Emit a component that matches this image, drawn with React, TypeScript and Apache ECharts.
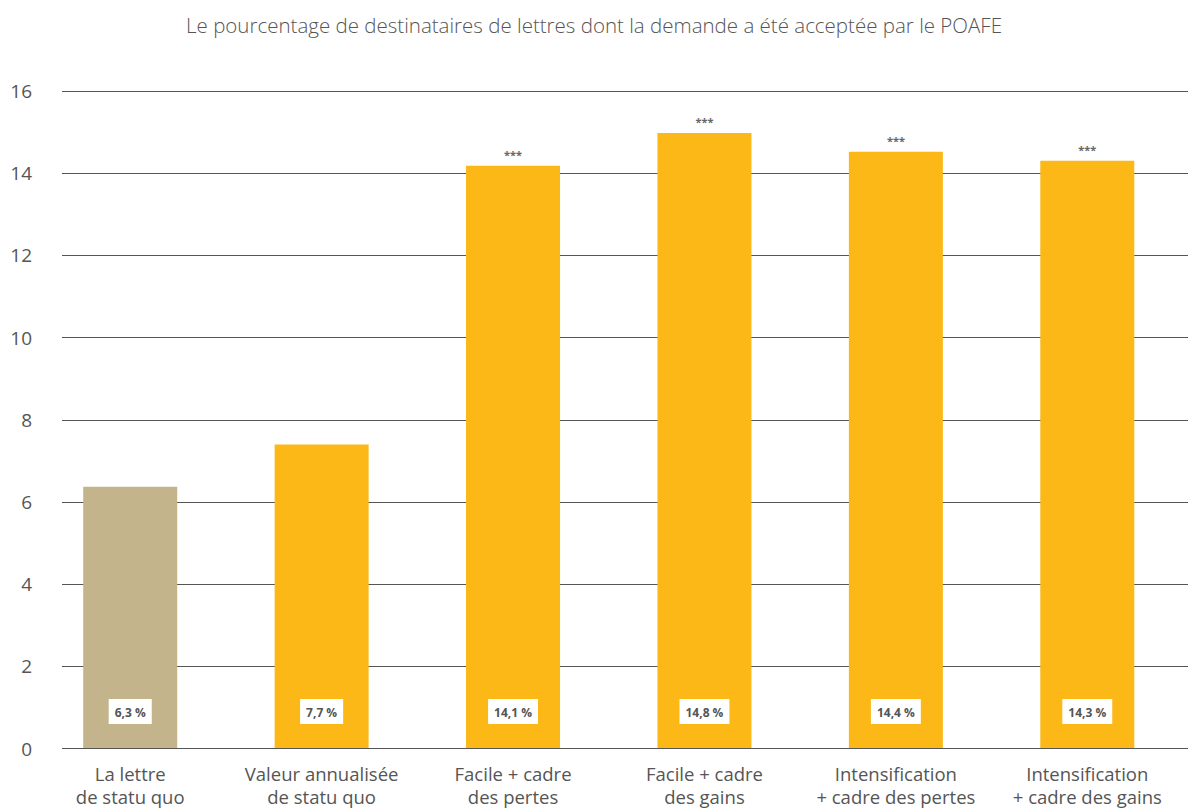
import React, { useEffect, useRef } from "react";
import * as echarts from "echarts";

const titleText = "Le pourcentage de destinataires de lettres dont la demande a été acceptée par le POAFE";
const categories = [
  "La lettre\nde statu quo",
  "Valeur annualisée\nde statu quo",
  "Facile + cadre\ndes pertes",
  "Facile + cadre\ndes gains",
  "Intensification\n+ cadre des pertes",
  "Intensification\n+ cadre des gains",
];
const barValues = [6.36, 7.39, 14.18, 14.98, 14.52, 14.3];
const valueLabels = ["6,3 %", "7,7 %", "14,1 %", "14,8 %", "14,4 %", "14,3 %"];
const significance = ["", "", "***", "***", "***", "***"];
const barColors = ["#C4B48C", "#FBB817", "#FBB817", "#FBB817", "#FBB817", "#FBB817"];
const yTicks = { min: 0, max: 16, interval: 2 };

const FONT = "'Open Sans', 'Noto Sans', sans-serif";
const GRAY = "#555555";

export default function App() {
  const ref = useRef<HTMLDivElement>(null);
  useEffect(() => {
    if (!ref.current) return;
    const chart = echarts.init(ref.current, null, { renderer: "svg" });
    const option: any = {
      animation: false,
      backgroundColor: "#ffffff",
      title: {
        text: titleText,
        left: "center",
        top: 9,
        textStyle: { fontFamily: FONT, fontSize: 20.5, fontWeight: 300, color: GRAY },
      },
      grid: [
        { left: 62, right: 0, top: 91, bottom: 59.5 },
        { left: 34.5, right: 5, top: 91, bottom: 59.5 },
      ],
      xAxis: [
        { gridIndex: 0, type: "value", show: false, min: 0, max: 1 },
        {
          gridIndex: 1,
          type: "category",
          data: categories,
          axisLine: { show: false },
          axisTick: { show: false },
          axisLabel: {
            margin: 14,
            fontFamily: FONT,
            fontSize: 18.5,
            lineHeight: 23,
            color: GRAY,
            interval: 0,
          },
        },
      ],
      yAxis: [
        {
          gridIndex: 0,
          type: "value",
          min: yTicks.min,
          max: yTicks.max,
          interval: yTicks.interval,
          axisLine: { show: false },
          axisTick: { show: false },
          axisLabel: { margin: 30, fontFamily: FONT, fontSize: 19, color: GRAY },
          splitLine: { lineStyle: { color: GRAY, width: 1 } },
        },
        {
          gridIndex: 1,
          type: "value",
          min: yTicks.min,
          max: yTicks.max,
          interval: yTicks.interval,
          show: false,
          splitLine: { show: false },
        },
      ],
      series: [
        {
          type: "bar",
          xAxisIndex: 1,
          yAxisIndex: 1,
          barWidth: 94,
          data: barValues.map((v, i) => ({ value: v, itemStyle: { color: barColors[i] } })),
          label: {
            show: true,
            position: "insideBottom",
            distance: 24,
            formatter: (p: any) => valueLabels[p.dataIndex],
            backgroundColor: "#ffffff",
            padding: [7, 6, 6, 6],
            fontFamily: FONT,
            fontSize: 12,
            fontWeight: "bold",
            color: GRAY,
          },
          z: 3,
        },
        {
          type: "bar",
          xAxisIndex: 1,
          yAxisIndex: 1,
          barWidth: 94,
          barGap: "-100%",
          data: barValues,
          itemStyle: { color: "rgba(0,0,0,0)" },
          silent: true,
          label: {
            show: true,
            position: "top",
            distance: 6,
            formatter: (p: any) => significance[p.dataIndex],
            fontFamily: FONT,
            fontSize: 11,
            fontWeight: "bold",
            color: "#666666",
          },
          z: 2,
        },
      ],
    };
    chart.setOption(option);
    return () => chart.dispose();
  }, []);
  return (
    <div
      ref={ref}
      style={{ position: "fixed", left: 0, top: 0, width: 1188, height: 808, background: "#fff" }}
    />
  );
}
